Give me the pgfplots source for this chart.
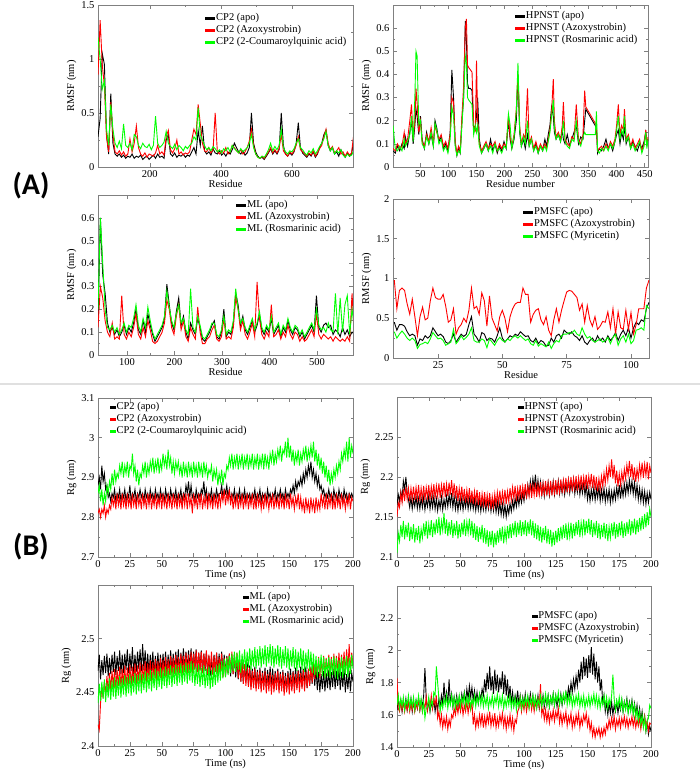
\documentclass[border=0pt]{standalone}
\usepackage{fontspec}
\setmainfont{Liberation Serif}
\newfontfamily\carlito{Carlito}
\usepackage{pgfplots}
\usepackage{pgfplotstable}
\pgfplotsset{compat=1.18}
\newcommand\fs{\fontsize{10.5}{12}\selectfont}
\definecolor{gr}{RGB}{0,255,0}
\definecolor{rd}{RGB}{255,0,0}
\pgfplotsset{
 panel/.style={scale only axis, anchor=south west,
   axis line style={black!50, line width=0.6pt},
   tick align=inside, major tick length=4pt, minor tick length=2pt,
   tick style={black!50, line width=0.5pt},
   minor x tick num=1, minor y tick num=1,
   tick label style={font=\fs}, label style={font=\fs},
   /pgf/number format/assume math mode=true,
   legend cell align=left,
   legend style={draw=none, fill=none, font=\fs, anchor=north west, inner sep=0pt, row sep=0pt,
     nodes={inner sep=1pt, text height=7.5pt, text depth=2.5pt}},
   xlabel style={yshift=4pt}, ylabel style={yshift=-2pt}},
 rmsf/.style={panel, ylabel={RMSF (nm)}, legend image code/.code={\fill[##1] (0pt,-0.8pt) rectangle (9pt,0.8pt);}},
 rg/.style={panel, xmin=0, xmax=200, xtick={0,25,...,200}, xlabel={Time (ns)}, ylabel={Rg (nm)},
   legend image code/.code={\fill[##1] (0pt,-1.2pt) rectangle (4.5pt,1.2pt);}},
 lb/.style={color=black, line width=0.9pt},
 lr/.style={color=rd, line width=0.9pt},
 lg/.style={color=gr, line width=0.9pt},
 tb/.style={color=black, line width=0.9pt},
 tr/.style={color=rd, line width=0.9pt},
 tg/.style={color=gr, line width=0.9pt},
}
% ---------- CP2 RMSF (x = 54 + 6i)
\pgfplotstableread[row sep=\\,header=false]{0.28\\0.45\\1.05\\0.95\\0.30\\0.12\\0.68\\0.22\\0.12\\0.10\\0.12\\0.09\\0.11\\0.08\\0.10\\0.09\\0.12\\0.08\\0.10\\0.09\\0.11\\0.07\\0.09\\0.10\\0.07\\0.09\\0.11\\0.08\\0.12\\0.09\\0.10\\0.08\\0.25\\0.30\\0.12\\0.10\\0.13\\0.09\\0.11\\0.10\\0.12\\0.09\\0.11\\0.10\\0.14\\0.18\\0.12\\0.34\\0.20\\0.38\\0.15\\0.12\\0.14\\0.11\\0.17\\0.13\\0.12\\0.15\\0.11\\0.13\\0.10\\0.14\\0.12\\0.16\\0.22\\0.18\\0.14\\0.12\\0.15\\0.11\\0.13\\0.18\\0.50\\0.22\\0.14\\0.10\\0.08\\0.09\\0.07\\0.10\\0.13\\0.17\\0.12\\0.15\\0.12\\0.16\\0.50\\0.20\\0.12\\0.10\\0.13\\0.11\\0.14\\0.22\\0.41\\0.18\\0.13\\0.11\\0.09\\0.12\\0.10\\0.14\\0.09\\0.12\\0.18\\0.22\\0.30\\0.34\\0.20\\0.15\\0.18\\0.12\\0.14\\0.10\\0.16\\0.12\\0.09\\0.13\\0.10\\0.12\\0.25\\}\cpRb
\pgfplotstableread[row sep=\\,header=false]{0.85\\1.36\\0.95\\0.75\\0.28\\0.14\\0.60\\0.30\\0.14\\0.12\\0.15\\0.11\\0.14\\0.10\\0.12\\0.26\\0.14\\0.22\\0.38\\0.18\\0.12\\0.10\\0.13\\0.09\\0.12\\0.11\\0.10\\0.13\\0.20\\0.12\\0.14\\0.11\\0.28\\0.34\\0.16\\0.13\\0.17\\0.25\\0.12\\0.14\\0.11\\0.13\\0.12\\0.14\\0.25\\0.35\\0.30\\0.58\\0.40\\0.22\\0.15\\0.14\\0.18\\0.13\\0.16\\0.50\\0.14\\0.12\\0.15\\0.13\\0.18\\0.12\\0.14\\0.20\\0.18\\0.15\\0.13\\0.16\\0.12\\0.14\\0.18\\0.24\\0.35\\0.20\\0.12\\0.09\\0.08\\0.10\\0.08\\0.11\\0.14\\0.18\\0.13\\0.16\\0.13\\0.17\\0.30\\0.15\\0.12\\0.10\\0.14\\0.12\\0.15\\0.20\\0.28\\0.16\\0.14\\0.12\\0.10\\0.13\\0.11\\0.15\\0.10\\0.13\\0.17\\0.20\\0.28\\0.35\\0.22\\0.16\\0.19\\0.13\\0.15\\0.18\\0.12\\0.14\\0.10\\0.14\\0.11\\0.13\\0.30\\}\cpRr
\pgfplotstableread[row sep=\\,header=false]{1.20\\1.00\\0.72\\0.80\\0.35\\0.20\\0.58\\0.35\\0.22\\0.18\\0.24\\0.17\\0.40\\0.20\\0.18\\0.22\\0.16\\0.30\\0.28\\0.20\\0.17\\0.22\\0.19\\0.18\\0.21\\0.16\\0.20\\0.47\\0.22\\0.18\\0.20\\0.23\\0.33\\0.22\\0.19\\0.17\\0.21\\0.16\\0.20\\0.18\\0.15\\0.19\\0.17\\0.20\\0.22\\0.28\\0.25\\0.55\\0.30\\0.25\\0.20\\0.16\\0.18\\0.15\\0.19\\0.17\\0.14\\0.16\\0.13\\0.17\\0.15\\0.18\\0.14\\0.20\\0.17\\0.15\\0.13\\0.17\\0.14\\0.16\\0.18\\0.22\\0.30\\0.18\\0.12\\0.09\\0.08\\0.10\\0.09\\0.12\\0.16\\0.22\\0.15\\0.19\\0.16\\0.20\\0.35\\0.18\\0.14\\0.12\\0.15\\0.14\\0.17\\0.22\\0.26\\0.18\\0.16\\0.13\\0.11\\0.15\\0.13\\0.17\\0.12\\0.15\\0.19\\0.22\\0.26\\0.33\\0.20\\0.15\\0.18\\0.12\\0.15\\0.13\\0.16\\0.11\\0.09\\0.12\\0.10\\0.11\\0.15\\}\cpRg
% ---------- ML RMSF (x = 39 + 5i)
\pgfplotstableread[row sep=\\,header=false]{0.15\\0.60\\0.35\\0.27\\0.14\\0.10\\0.12\\0.09\\0.11\\0.08\\0.10\\0.13\\0.09\\0.12\\0.10\\0.14\\0.20\\0.11\\0.09\\0.15\\0.10\\0.18\\0.13\\0.09\\0.06\\0.08\\0.10\\0.12\\0.16\\0.31\\0.22\\0.14\\0.11\\0.19\\0.25\\0.13\\0.17\\0.10\\0.07\\0.14\\0.11\\0.09\\0.16\\0.12\\0.07\\0.06\\0.08\\0.10\\0.13\\0.15\\0.08\\0.07\\0.10\\0.20\\0.08\\0.10\\0.09\\0.14\\0.27\\0.22\\0.13\\0.17\\0.11\\0.09\\0.12\\0.15\\0.10\\0.13\\0.18\\0.11\\0.09\\0.12\\0.10\\0.16\\0.09\\0.11\\0.13\\0.08\\0.12\\0.10\\0.15\\0.11\\0.09\\0.12\\0.11\\0.08\\0.10\\0.07\\0.09\\0.11\\0.13\\0.10\\0.26\\0.12\\0.10\\0.13\\0.14\\0.12\\0.13\\0.09\\0.11\\0.10\\0.08\\0.12\\0.09\\0.11\\0.08\\0.10\\0.09\\}\mlRb
\pgfplotstableread[row sep=\\,header=false]{0.12\\0.30\\0.25\\0.15\\0.10\\0.08\\0.14\\0.07\\0.08\\0.07\\0.26\\0.09\\0.07\\0.10\\0.08\\0.12\\0.18\\0.09\\0.07\\0.12\\0.08\\0.15\\0.11\\0.06\\0.05\\0.06\\0.08\\0.10\\0.14\\0.24\\0.20\\0.12\\0.09\\0.17\\0.22\\0.11\\0.15\\0.08\\0.06\\0.12\\0.09\\0.07\\0.21\\0.10\\0.05\\0.05\\0.07\\0.08\\0.11\\0.13\\0.07\\0.06\\0.08\\0.16\\0.07\\0.08\\0.07\\0.12\\0.25\\0.20\\0.11\\0.15\\0.09\\0.07\\0.10\\0.14\\0.08\\0.32\\0.16\\0.09\\0.07\\0.10\\0.08\\0.22\\0.08\\0.09\\0.11\\0.07\\0.10\\0.08\\0.13\\0.09\\0.07\\0.10\\0.09\\0.06\\0.08\\0.06\\0.07\\0.09\\0.11\\0.08\\0.18\\0.09\\0.07\\0.09\\0.08\\0.07\\0.08\\0.06\\0.08\\0.07\\0.06\\0.07\\0.06\\0.08\\0.06\\0.27\\0.07\\}\mlRr
\pgfplotstableread[row sep=\\,header=false]{0.20\\0.60\\0.40\\0.20\\0.12\\0.11\\0.13\\0.10\\0.12\\0.09\\0.11\\0.14\\0.10\\0.13\\0.12\\0.16\\0.22\\0.13\\0.10\\0.16\\0.12\\0.21\\0.15\\0.10\\0.07\\0.09\\0.11\\0.13\\0.17\\0.28\\0.21\\0.15\\0.12\\0.18\\0.22\\0.14\\0.16\\0.11\\0.09\\0.29\\0.12\\0.10\\0.17\\0.13\\0.08\\0.07\\0.09\\0.11\\0.14\\0.14\\0.09\\0.08\\0.11\\0.17\\0.09\\0.11\\0.10\\0.15\\0.29\\0.20\\0.14\\0.16\\0.12\\0.10\\0.13\\0.16\\0.11\\0.14\\0.19\\0.12\\0.10\\0.13\\0.11\\0.17\\0.10\\0.12\\0.14\\0.09\\0.13\\0.11\\0.16\\0.12\\0.10\\0.13\\0.12\\0.09\\0.11\\0.08\\0.10\\0.12\\0.14\\0.11\\0.20\\0.13\\0.11\\0.12\\0.10\\0.14\\0.11\\0.10\\0.27\\0.09\\0.25\\0.10\\0.22\\0.26\\0.09\\0.20\\0.12\\}\mlRg
% ---------- PMSFC RMSF (x = 8 + i)
\pgfplotstableread[row sep=\\,header=false]{0.45\\0.35\\0.42\\0.42\\0.40\\0.33\\0.28\\0.30\\0.28\\0.16\\0.24\\0.22\\0.28\\0.25\\0.28\\0.38\\0.33\\0.28\\0.30\\0.27\\0.20\\0.18\\0.22\\0.30\\0.20\\0.25\\0.30\\0.27\\0.30\\0.42\\0.52\\0.30\\0.26\\0.20\\0.32\\0.30\\0.22\\0.25\\0.24\\0.20\\0.28\\0.38\\0.25\\0.20\\0.24\\0.28\\0.26\\0.30\\0.28\\0.33\\0.30\\0.27\\0.28\\0.22\\0.20\\0.25\\0.18\\0.22\\0.20\\0.15\\0.16\\0.25\\0.20\\0.28\\0.30\\0.25\\0.35\\0.32\\0.30\\0.33\\0.28\\0.26\\0.22\\0.28\\0.20\\0.17\\0.22\\0.25\\0.20\\0.28\\0.22\\0.25\\0.20\\0.28\\0.22\\0.26\\0.32\\0.22\\0.30\\0.35\\0.28\\0.38\\0.25\\0.38\\0.45\\0.42\\0.48\\0.46\\0.62\\0.70\\}\pmRb
\pgfplotstableread[row sep=\\,header=false]{0.98\\0.62\\0.85\\0.88\\0.85\\0.68\\0.55\\0.74\\0.52\\0.28\\0.52\\0.64\\0.48\\0.50\\0.72\\0.88\\0.76\\0.74\\0.74\\0.80\\0.65\\0.45\\0.48\\0.62\\0.30\\0.38\\0.42\\0.50\\0.45\\0.60\\0.88\\0.62\\0.65\\0.55\\0.82\\0.72\\0.40\\0.78\\0.50\\0.42\\0.34\\0.52\\0.60\\0.50\\0.33\\0.52\\0.62\\0.68\\0.70\\0.70\\0.88\\0.80\\0.80\\0.45\\0.55\\0.60\\0.62\\0.48\\0.42\\0.52\\0.35\\0.28\\0.48\\0.62\\0.45\\0.60\\0.72\\0.83\\0.85\\0.84\\0.80\\0.76\\0.60\\0.68\\0.45\\0.66\\0.48\\0.40\\0.52\\0.36\\0.40\\0.46\\0.45\\0.58\\0.38\\0.62\\0.30\\0.58\\0.38\\0.36\\0.60\\0.36\\0.57\\0.30\\0.42\\0.62\\0.62\\0.62\\0.88\\0.98\\}\pmRr
\pgfplotstableread[row sep=\\,header=false]{0.33\\0.25\\0.30\\0.34\\0.30\\0.25\\0.22\\0.25\\0.22\\0.12\\0.17\\0.18\\0.20\\0.18\\0.24\\0.32\\0.28\\0.24\\0.25\\0.22\\0.16\\0.18\\0.20\\0.36\\0.18\\0.22\\0.28\\0.23\\0.26\\0.30\\0.38\\0.22\\0.20\\0.20\\0.24\\0.22\\0.13\\0.24\\0.20\\0.16\\0.22\\0.26\\0.22\\0.20\\0.24\\0.22\\0.26\\0.28\\0.25\\0.28\\0.25\\0.22\\0.24\\0.18\\0.16\\0.22\\0.15\\0.18\\0.16\\0.14\\0.20\\0.12\\0.18\\0.22\\0.20\\0.28\\0.30\\0.30\\0.32\\0.31\\0.35\\0.30\\0.28\\0.38\\0.30\\0.25\\0.27\\0.22\\0.20\\0.22\\0.24\\0.20\\0.22\\0.26\\0.18\\0.26\\0.30\\0.16\\0.24\\0.28\\0.20\\0.30\\0.18\\0.22\\0.35\\0.36\\0.38\\0.35\\0.66\\0.62\\}\pmRg
% ---------- CP2 Rg (t = i ns)
\pgfplotstableread[row sep=\\,header=false]{2.88\\2.90\\2.87\\2.93\\2.89\\2.91\\2.87\\2.88\\2.85\\2.86\\2.84\\2.86\\2.85\\2.87\\2.84\\2.86\\2.85\\2.87\\2.84\\2.86\\2.85\\2.87\\2.84\\2.86\\2.85\\2.88\\2.84\\2.86\\2.85\\2.87\\2.84\\2.86\\2.85\\2.87\\2.85\\2.86\\2.84\\2.87\\2.85\\2.86\\2.84\\2.87\\2.85\\2.86\\2.84\\2.87\\2.85\\2.86\\2.84\\2.87\\2.85\\2.86\\2.84\\2.87\\2.85\\2.86\\2.84\\2.87\\2.85\\2.86\\2.85\\2.87\\2.84\\2.86\\2.85\\2.87\\2.84\\2.86\\2.85\\2.88\\2.86\\2.89\\2.85\\2.88\\2.85\\2.86\\2.84\\2.87\\2.85\\2.86\\2.85\\2.87\\2.86\\2.89\\2.85\\2.87\\2.84\\2.86\\2.85\\2.87\\2.84\\2.86\\2.85\\2.87\\2.85\\2.86\\2.86\\2.88\\2.85\\2.87\\2.86\\2.88\\2.85\\2.87\\2.84\\2.86\\2.85\\2.87\\2.84\\2.86\\2.85\\2.87\\2.84\\2.86\\2.85\\2.87\\2.84\\2.86\\2.85\\2.86\\2.84\\2.86\\2.85\\2.87\\2.84\\2.86\\2.85\\2.87\\2.84\\2.86\\2.85\\2.86\\2.84\\2.87\\2.85\\2.86\\2.84\\2.86\\2.85\\2.87\\2.84\\2.86\\2.85\\2.87\\2.85\\2.86\\2.84\\2.87\\2.85\\2.86\\2.85\\2.87\\2.86\\2.88\\2.86\\2.89\\2.87\\2.89\\2.88\\2.90\\2.88\\2.91\\2.89\\2.92\\2.90\\2.93\\2.91\\2.94\\2.90\\2.92\\2.89\\2.91\\2.88\\2.90\\2.87\\2.88\\2.86\\2.87\\2.85\\2.86\\2.85\\2.87\\2.85\\2.86\\2.84\\2.87\\2.85\\2.86\\2.84\\2.87\\2.85\\2.86\\2.84\\2.87\\2.85\\2.86\\2.84\\2.86\\2.85\\2.86\\2.85\\}\cpGb
\pgfplotstableread[row sep=\\,header=false]{2.81\\2.82\\2.80\\2.82\\2.81\\2.83\\2.80\\2.82\\2.81\\2.83\\2.82\\2.85\\2.83\\2.85\\2.82\\2.86\\2.83\\2.85\\2.82\\2.86\\2.83\\2.85\\2.82\\2.86\\2.83\\2.85\\2.82\\2.86\\2.83\\2.85\\2.82\\2.86\\2.83\\2.85\\2.82\\2.86\\2.83\\2.85\\2.82\\2.86\\2.83\\2.86\\2.82\\2.85\\2.83\\2.86\\2.82\\2.85\\2.83\\2.86\\2.82\\2.86\\2.83\\2.85\\2.82\\2.86\\2.83\\2.85\\2.82\\2.86\\2.83\\2.85\\2.82\\2.86\\2.83\\2.85\\2.82\\2.86\\2.83\\2.86\\2.82\\2.86\\2.83\\2.85\\2.81\\2.86\\2.83\\2.85\\2.82\\2.86\\2.83\\2.86\\2.82\\2.85\\2.83\\2.86\\2.82\\2.86\\2.83\\2.85\\2.82\\2.86\\2.83\\2.85\\2.82\\2.86\\2.83\\2.86\\2.84\\2.87\\2.83\\2.86\\2.84\\2.87\\2.83\\2.86\\2.82\\2.85\\2.83\\2.86\\2.82\\2.85\\2.83\\2.86\\2.82\\2.85\\2.83\\2.86\\2.82\\2.85\\2.83\\2.86\\2.82\\2.85\\2.82\\2.86\\2.83\\2.85\\2.82\\2.85\\2.82\\2.86\\2.83\\2.85\\2.82\\2.85\\2.83\\2.86\\2.82\\2.85\\2.83\\2.85\\2.82\\2.86\\2.83\\2.85\\2.82\\2.86\\2.83\\2.85\\2.82\\2.86\\2.83\\2.85\\2.82\\2.85\\2.83\\2.86\\2.82\\2.85\\2.82\\2.84\\2.81\\2.85\\2.82\\2.84\\2.81\\2.85\\2.82\\2.84\\2.81\\2.85\\2.82\\2.84\\2.82\\2.86\\2.83\\2.85\\2.82\\2.86\\2.82\\2.85\\2.83\\2.86\\2.82\\2.85\\2.82\\2.86\\2.83\\2.85\\2.82\\2.86\\2.83\\2.85\\2.82\\2.85\\2.83\\2.86\\2.82\\2.85\\2.84\\}\cpGr
\pgfplotstableread[row sep=\\,header=false]{2.86\\2.88\\2.84\\2.87\\2.83\\2.86\\2.84\\2.88\\2.86\\2.89\\2.87\\2.91\\2.88\\2.92\\2.89\\2.91\\2.90\\2.93\\2.91\\2.94\\2.90\\2.93\\2.91\\2.94\\2.90\\2.93\\2.92\\2.96\\2.91\\2.93\\2.89\\2.92\\2.88\\2.91\\2.90\\2.93\\2.91\\2.94\\2.90\\2.93\\2.91\\2.94\\2.92\\2.95\\2.91\\2.94\\2.92\\2.95\\2.91\\2.94\\2.92\\2.96\\2.93\\2.95\\2.92\\2.97\\2.93\\2.95\\2.91\\2.94\\2.91\\2.94\\2.92\\2.94\\2.91\\2.93\\2.90\\2.94\\2.91\\2.93\\2.90\\2.94\\2.91\\2.93\\2.90\\2.94\\2.91\\2.93\\2.90\\2.94\\2.91\\2.93\\2.90\\2.94\\2.91\\2.93\\2.90\\2.92\\2.91\\2.93\\2.89\\2.92\\2.90\\2.92\\2.88\\2.91\\2.89\\2.92\\2.88\\2.91\\2.90\\2.93\\2.92\\2.95\\2.93\\2.96\\2.92\\2.95\\2.93\\2.96\\2.92\\2.95\\2.93\\2.96\\2.92\\2.95\\2.93\\2.96\\2.92\\2.95\\2.93\\2.96\\2.92\\2.95\\2.93\\2.96\\2.92\\2.95\\2.93\\2.96\\2.92\\2.96\\2.93\\2.95\\2.92\\2.96\\2.94\\2.97\\2.93\\2.96\\2.94\\2.97\\2.95\\2.98\\2.94\\2.97\\2.96\\2.99\\2.95\\3.00\\2.95\\2.98\\2.94\\2.97\\2.93\\2.96\\2.94\\2.97\\2.93\\2.96\\2.94\\2.97\\2.95\\2.98\\2.94\\2.97\\2.95\\2.98\\2.95\\2.99\\2.94\\2.97\\2.93\\2.96\\2.92\\2.95\\2.91\\2.94\\2.90\\2.93\\2.89\\2.92\\2.88\\2.91\\2.89\\2.92\\2.90\\2.93\\2.91\\2.94\\2.92\\2.96\\2.94\\2.97\\2.95\\2.99\\2.94\\3.00\\2.95\\2.98\\2.96\\}\cpGg
% ---------- HPNST Rg
\pgfplotstableread[row sep=\\,header=false]{2.165\\2.178\\2.170\\2.182\\2.172\\2.195\\2.185\\2.200\\2.180\\2.172\\2.162\\2.175\\2.160\\2.172\\2.163\\2.176\\2.161\\2.173\\2.160\\2.174\\2.162\\2.175\\2.159\\2.172\\2.163\\2.177\\2.160\\2.174\\2.162\\2.176\\2.160\\2.173\\2.158\\2.171\\2.161\\2.175\\2.159\\2.172\\2.162\\2.176\\2.163\\2.178\\2.165\\2.180\\2.162\\2.176\\2.160\\2.173\\2.158\\2.172\\2.161\\2.174\\2.159\\2.172\\2.162\\2.175\\2.160\\2.173\\2.161\\2.174\\2.160\\2.172\\2.158\\2.171\\2.159\\2.173\\2.157\\2.170\\2.159\\2.172\\2.158\\2.171\\2.160\\2.173\\2.157\\2.170\\2.158\\2.172\\2.156\\2.169\\2.155\\2.168\\2.153\\2.166\\2.152\\2.165\\2.150\\2.163\\2.154\\2.167\\2.157\\2.170\\2.160\\2.173\\2.163\\2.176\\2.165\\2.178\\2.168\\2.180\\2.170\\2.185\\2.175\\2.190\\2.178\\2.195\\2.182\\2.198\\2.186\\2.203\\2.182\\2.196\\2.180\\2.194\\2.178\\2.192\\2.176\\2.190\\2.179\\2.193\\2.177\\2.190\\2.180\\2.194\\2.178\\2.191\\2.181\\2.195\\2.179\\2.192\\2.180\\2.194\\2.178\\2.191\\2.182\\2.196\\2.180\\2.193\\2.183\\2.197\\2.179\\2.192\\2.181\\2.195\\2.178\\2.191\\2.180\\2.194\\2.177\\2.190\\2.172\\2.185\\2.170\\2.184\\2.173\\2.187\\2.171\\2.185\\2.174\\2.188\\2.170\\2.184\\2.172\\2.186\\2.169\\2.183\\2.171\\2.185\\2.168\\2.182\\2.170\\2.184\\2.172\\2.187\\2.175\\2.190\\2.173\\2.188\\2.176\\2.191\\2.178\\2.193\\2.180\\2.196\\2.182\\2.195\\2.179\\2.193\\2.176\\2.190\\2.172\\2.186\\2.170\\2.184\\2.168\\2.182\\2.166\\2.180\\2.168\\2.181\\2.172\\}\hpGb
\pgfplotstableread[row sep=\\,header=false]{2.150\\2.168\\2.162\\2.180\\2.168\\2.185\\2.170\\2.188\\2.172\\2.186\\2.170\\2.186\\2.172\\2.188\\2.171\\2.187\\2.173\\2.190\\2.170\\2.186\\2.172\\2.189\\2.171\\2.187\\2.174\\2.190\\2.172\\2.188\\2.175\\2.191\\2.173\\2.189\\2.176\\2.192\\2.174\\2.190\\2.177\\2.193\\2.175\\2.191\\2.176\\2.193\\2.178\\2.196\\2.175\\2.192\\2.173\\2.189\\2.170\\2.186\\2.172\\2.188\\2.170\\2.185\\2.168\\2.184\\2.170\\2.186\\2.168\\2.183\\2.166\\2.182\\2.168\\2.184\\2.165\\2.181\\2.163\\2.179\\2.165\\2.181\\2.162\\2.178\\2.164\\2.180\\2.160\\2.176\\2.163\\2.179\\2.165\\2.181\\2.167\\2.183\\2.165\\2.181\\2.168\\2.184\\2.166\\2.182\\2.169\\2.186\\2.171\\2.187\\2.173\\2.189\\2.170\\2.186\\2.174\\2.190\\2.172\\2.188\\2.175\\2.191\\2.173\\2.189\\2.176\\2.192\\2.174\\2.190\\2.177\\2.193\\2.175\\2.191\\2.178\\2.194\\2.176\\2.192\\2.179\\2.195\\2.177\\2.193\\2.179\\2.195\\2.177\\2.193\\2.180\\2.196\\2.178\\2.194\\2.181\\2.197\\2.180\\2.196\\2.183\\2.199\\2.181\\2.197\\2.184\\2.200\\2.182\\2.198\\2.185\\2.201\\2.183\\2.199\\2.186\\2.202\\2.184\\2.200\\2.187\\2.203\\2.185\\2.201\\2.188\\2.204\\2.186\\2.202\\2.184\\2.200\\2.182\\2.198\\2.185\\2.201\\2.188\\2.205\\2.192\\2.210\\2.196\\2.214\\2.200\\2.222\\2.198\\2.215\\2.192\\2.208\\2.188\\2.204\\2.190\\2.206\\2.194\\2.210\\2.198\\2.215\\2.202\\2.220\\2.200\\2.216\\2.196\\2.212\\2.194\\2.210\\2.198\\2.215\\2.201\\2.218\\2.199\\2.216\\2.202\\2.219\\2.197\\2.214\\2.205\\}\hpGr
\pgfplotstableread[row sep=\\,header=false]{2.105\\2.130\\2.120\\2.140\\2.125\\2.145\\2.122\\2.140\\2.125\\2.143\\2.120\\2.138\\2.122\\2.141\\2.118\\2.136\\2.121\\2.139\\2.117\\2.135\\2.124\\2.142\\2.126\\2.145\\2.123\\2.141\\2.127\\2.146\\2.125\\2.143\\2.128\\2.147\\2.130\\2.150\\2.127\\2.145\\2.133\\2.155\\2.129\\2.147\\2.126\\2.144\\2.128\\2.146\\2.124\\2.142\\2.127\\2.145\\2.123\\2.141\\2.125\\2.143\\2.128\\2.147\\2.126\\2.144\\2.130\\2.148\\2.127\\2.145\\2.124\\2.142\\2.121\\2.139\\2.119\\2.137\\2.122\\2.140\\2.118\\2.136\\2.116\\2.134\\2.113\\2.132\\2.115\\2.133\\2.112\\2.130\\2.115\\2.133\\2.118\\2.136\\2.120\\2.138\\2.117\\2.135\\2.121\\2.139\\2.123\\2.141\\2.124\\2.142\\2.127\\2.145\\2.125\\2.143\\2.128\\2.146\\2.126\\2.144\\2.128\\2.146\\2.126\\2.144\\2.129\\2.147\\2.127\\2.145\\2.124\\2.142\\2.122\\2.140\\2.120\\2.138\\2.118\\2.136\\2.121\\2.139\\2.117\\2.135\\2.116\\2.134\\2.113\\2.131\\2.115\\2.133\\2.118\\2.136\\2.120\\2.138\\2.122\\2.140\\2.124\\2.142\\2.121\\2.139\\2.125\\2.143\\2.123\\2.141\\2.126\\2.144\\2.128\\2.146\\2.125\\2.143\\2.129\\2.147\\2.127\\2.145\\2.130\\2.148\\2.128\\2.146\\2.125\\2.143\\2.127\\2.145\\2.124\\2.142\\2.122\\2.140\\2.125\\2.143\\2.123\\2.141\\2.120\\2.138\\2.124\\2.142\\2.126\\2.144\\2.123\\2.141\\2.125\\2.143\\2.127\\2.145\\2.124\\2.142\\2.126\\2.144\\2.129\\2.147\\2.127\\2.145\\2.130\\2.148\\2.128\\2.146\\2.131\\2.149\\2.133\\2.151\\2.135\\2.154\\2.137\\2.156\\2.140\\2.160\\2.150\\}\hpGg
% ---------- ML Rg
\pgfplotstableread[row sep=\\,header=false]{2.470\\2.485\\2.462\\2.480\\2.466\\2.484\\2.468\\2.486\\2.465\\2.482\\2.467\\2.485\\2.469\\2.488\\2.466\\2.484\\2.470\\2.489\\2.467\\2.485\\2.468\\2.486\\2.471\\2.490\\2.468\\2.486\\2.470\\2.492\\2.467\\2.485\\2.469\\2.488\\2.472\\2.490\\2.470\\2.495\\2.471\\2.489\\2.468\\2.486\\2.467\\2.485\\2.470\\2.488\\2.466\\2.484\\2.469\\2.487\\2.467\\2.485\\2.468\\2.486\\2.470\\2.488\\2.467\\2.485\\2.471\\2.489\\2.468\\2.486\\2.470\\2.488\\2.472\\2.490\\2.469\\2.487\\2.473\\2.491\\2.470\\2.488\\2.471\\2.489\\2.473\\2.491\\2.470\\2.488\\2.472\\2.490\\2.469\\2.487\\2.471\\2.489\\2.468\\2.486\\2.470\\2.488\\2.466\\2.484\\2.465\\2.482\\2.467\\2.485\\2.469\\2.487\\2.468\\2.486\\2.470\\2.488\\2.467\\2.485\\2.466\\2.484\\2.468\\2.486\\2.465\\2.483\\2.467\\2.485\\2.464\\2.482\\2.462\\2.480\\2.460\\2.478\\2.458\\2.476\\2.460\\2.478\\2.457\\2.475\\2.455\\2.472\\2.457\\2.474\\2.454\\2.471\\2.456\\2.473\\2.453\\2.470\\2.456\\2.473\\2.454\\2.471\\2.457\\2.474\\2.455\\2.472\\2.453\\2.470\\2.455\\2.472\\2.452\\2.469\\2.454\\2.471\\2.451\\2.468\\2.453\\2.470\\2.455\\2.472\\2.453\\2.470\\2.456\\2.473\\2.454\\2.471\\2.457\\2.474\\2.455\\2.472\\2.457\\2.474\\2.454\\2.471\\2.456\\2.473\\2.458\\2.475\\2.456\\2.473\\2.452\\2.469\\2.450\\2.467\\2.453\\2.470\\2.451\\2.468\\2.454\\2.471\\2.452\\2.469\\2.455\\2.472\\2.453\\2.470\\2.456\\2.473\\2.452\\2.469\\2.455\\2.472\\2.450\\2.467\\2.453\\2.470\\2.451\\2.468\\2.460\\}\mlGb
\pgfplotstableread[row sep=\\,header=false]{2.420\\2.415\\2.440\\2.455\\2.445\\2.460\\2.448\\2.465\\2.450\\2.468\\2.452\\2.470\\2.455\\2.472\\2.453\\2.471\\2.456\\2.474\\2.454\\2.472\\2.457\\2.475\\2.455\\2.473\\2.458\\2.476\\2.456\\2.474\\2.459\\2.477\\2.457\\2.475\\2.460\\2.478\\2.458\\2.476\\2.461\\2.479\\2.459\\2.477\\2.462\\2.480\\2.460\\2.478\\2.463\\2.481\\2.461\\2.479\\2.464\\2.482\\2.462\\2.480\\2.465\\2.483\\2.463\\2.481\\2.466\\2.484\\2.464\\2.482\\2.467\\2.485\\2.465\\2.483\\2.468\\2.486\\2.466\\2.484\\2.469\\2.487\\2.467\\2.485\\2.470\\2.488\\2.468\\2.486\\2.471\\2.489\\2.469\\2.487\\2.470\\2.488\\2.468\\2.486\\2.471\\2.489\\2.467\\2.485\\2.470\\2.488\\2.466\\2.484\\2.469\\2.487\\2.465\\2.483\\2.468\\2.486\\2.464\\2.482\\2.465\\2.483\\2.468\\2.486\\2.470\\2.488\\2.467\\2.485\\2.469\\2.487\\2.463\\2.481\\2.460\\2.478\\2.458\\2.476\\2.456\\2.474\\2.455\\2.473\\2.452\\2.470\\2.454\\2.472\\2.451\\2.469\\2.453\\2.471\\2.450\\2.468\\2.452\\2.470\\2.449\\2.467\\2.451\\2.469\\2.448\\2.466\\2.450\\2.468\\2.452\\2.470\\2.449\\2.467\\2.451\\2.469\\2.447\\2.465\\2.450\\2.468\\2.448\\2.466\\2.451\\2.469\\2.449\\2.467\\2.452\\2.470\\2.450\\2.468\\2.453\\2.471\\2.451\\2.469\\2.454\\2.472\\2.456\\2.474\\2.459\\2.477\\2.462\\2.480\\2.465\\2.483\\2.463\\2.481\\2.466\\2.484\\2.464\\2.482\\2.467\\2.485\\2.465\\2.483\\2.468\\2.486\\2.466\\2.484\\2.469\\2.487\\2.467\\2.485\\2.470\\2.488\\2.468\\2.490\\2.471\\2.495\\2.469\\2.487\\2.475\\}\mlGr
\pgfplotstableread[row sep=\\,header=false]{2.440\\2.458\\2.442\\2.460\\2.444\\2.462\\2.441\\2.459\\2.445\\2.463\\2.443\\2.461\\2.446\\2.464\\2.444\\2.462\\2.447\\2.465\\2.445\\2.463\\2.448\\2.466\\2.446\\2.464\\2.449\\2.467\\2.447\\2.465\\2.450\\2.468\\2.448\\2.466\\2.451\\2.469\\2.449\\2.467\\2.452\\2.470\\2.450\\2.468\\2.453\\2.471\\2.451\\2.469\\2.454\\2.472\\2.452\\2.470\\2.455\\2.473\\2.453\\2.471\\2.456\\2.474\\2.454\\2.472\\2.457\\2.475\\2.455\\2.473\\2.458\\2.476\\2.456\\2.474\\2.459\\2.477\\2.457\\2.475\\2.460\\2.478\\2.458\\2.476\\2.461\\2.479\\2.459\\2.477\\2.456\\2.474\\2.458\\2.476\\2.455\\2.473\\2.457\\2.475\\2.454\\2.472\\2.456\\2.474\\2.453\\2.471\\2.455\\2.473\\2.457\\2.475\\2.459\\2.477\\2.461\\2.479\\2.463\\2.481\\2.464\\2.482\\2.466\\2.484\\2.468\\2.486\\2.470\\2.488\\2.469\\2.487\\2.471\\2.489\\2.468\\2.486\\2.472\\2.490\\2.470\\2.488\\2.473\\2.491\\2.471\\2.489\\2.474\\2.492\\2.472\\2.490\\2.475\\2.493\\2.473\\2.491\\2.476\\2.494\\2.474\\2.492\\2.477\\2.495\\2.475\\2.493\\2.473\\2.491\\2.476\\2.494\\2.474\\2.492\\2.472\\2.490\\2.475\\2.493\\2.473\\2.491\\2.471\\2.489\\2.474\\2.492\\2.472\\2.490\\2.470\\2.488\\2.473\\2.491\\2.471\\2.489\\2.469\\2.487\\2.472\\2.490\\2.470\\2.488\\2.468\\2.486\\2.466\\2.484\\2.464\\2.482\\2.467\\2.485\\2.465\\2.483\\2.463\\2.481\\2.465\\2.483\\2.463\\2.481\\2.466\\2.484\\2.464\\2.482\\2.462\\2.480\\2.465\\2.483\\2.463\\2.481\\2.466\\2.484\\2.464\\2.482\\2.467\\2.485\\2.472\\}\mlGg
% ---------- PMSFC Rg
\pgfplotstableread[row sep=\\,header=false]{1.63\\1.70\\1.64\\1.69\\1.62\\1.68\\1.64\\1.70\\1.63\\1.69\\1.64\\1.70\\1.62\\1.68\\1.63\\1.69\\1.64\\1.70\\1.63\\1.69\\1.65\\1.72\\1.89\\1.70\\1.63\\1.69\\1.62\\1.68\\1.64\\1.70\\1.62\\1.68\\1.63\\1.70\\1.65\\1.72\\1.66\\1.80\\1.68\\1.74\\1.66\\1.82\\1.67\\1.73\\1.65\\1.71\\1.66\\1.72\\1.65\\1.71\\1.66\\1.73\\1.68\\1.74\\1.67\\1.76\\1.70\\1.78\\1.71\\1.77\\1.69\\1.75\\1.68\\1.74\\1.67\\1.73\\1.70\\1.76\\1.72\\1.82\\1.74\\1.86\\1.76\\1.90\\1.75\\1.84\\1.73\\1.88\\1.75\\1.85\\1.74\\1.83\\1.76\\1.87\\1.73\\1.85\\1.72\\1.82\\1.70\\1.78\\1.67\\1.74\\1.66\\1.72\\1.68\\1.75\\1.66\\1.72\\1.65\\1.71\\1.66\\1.73\\1.65\\1.71\\1.67\\1.73\\1.66\\1.72\\1.65\\1.71\\1.66\\1.72\\1.64\\1.70\\1.66\\1.72\\1.65\\1.71\\1.66\\1.72\\1.65\\1.71\\1.67\\1.73\\1.66\\1.72\\1.65\\1.71\\1.67\\1.73\\1.66\\1.72\\1.68\\1.74\\1.70\\1.77\\1.72\\1.80\\1.74\\1.82\\1.76\\1.84\\1.78\\1.88\\1.80\\1.93\\1.82\\1.96\\1.84\\1.95\\1.83\\1.97\\1.86\\2.02\\1.85\\1.98\\1.82\\1.93\\1.80\\1.90\\1.75\\1.82\\1.66\\1.72\\1.62\\1.68\\1.60\\1.67\\1.61\\1.68\\1.60\\1.66\\1.62\\1.68\\1.61\\1.67\\1.63\\1.69\\1.62\\1.68\\1.64\\1.70\\1.62\\1.68\\1.63\\1.69\\1.61\\1.67\\1.60\\1.66\\1.58\\1.64\\1.56\\1.62\\1.54\\1.59\\1.50\\1.56\\1.48\\1.53\\1.50\\}\pmGb
\pgfplotstableread[row sep=\\,header=false]{1.83\\1.64\\1.62\\1.68\\1.63\\1.69\\1.62\\1.67\\1.63\\1.68\\1.62\\1.67\\1.63\\1.69\\1.62\\1.67\\1.64\\1.70\\1.63\\1.68\\1.62\\1.67\\1.64\\1.71\\1.63\\1.69\\1.65\\1.72\\1.64\\1.70\\1.66\\1.72\\1.58\\1.62\\1.54\\1.60\\1.52\\1.58\\1.53\\1.59\\1.51\\1.57\\1.53\\1.60\\1.58\\1.64\\1.60\\1.66\\1.61\\1.67\\1.62\\1.68\\1.60\\1.66\\1.62\\1.68\\1.61\\1.67\\1.63\\1.69\\1.54\\1.60\\1.52\\1.58\\1.53\\1.60\\1.54\\1.61\\1.52\\1.59\\1.53\\1.60\\1.55\\1.62\\1.53\\1.59\\1.54\\1.61\\1.52\\1.58\\1.53\\1.60\\1.55\\1.61\\1.53\\1.59\\1.51\\1.58\\1.53\\1.60\\1.52\\1.58\\1.50\\1.57\\1.55\\1.62\\1.64\\1.70\\1.62\\1.68\\1.63\\1.69\\1.62\\1.68\\1.64\\1.70\\1.63\\1.69\\1.62\\1.68\\1.64\\1.70\\1.65\\1.79\\1.60\\1.64\\1.57\\1.63\\1.56\\1.62\\1.55\\1.61\\1.57\\1.63\\1.56\\1.62\\1.58\\1.64\\1.55\\1.61\\1.54\\1.60\\1.56\\1.62\\1.53\\1.59\\1.55\\1.61\\1.52\\1.58\\1.53\\1.60\\1.55\\1.61\\1.52\\1.58\\1.54\\1.60\\1.56\\1.61\\1.53\\1.58\\1.50\\1.55\\1.47\\1.52\\1.46\\1.51\\1.48\\1.52\\1.46\\1.51\\1.47\\1.52\\1.48\\1.54\\1.51\\1.57\\1.52\\1.58\\1.53\\1.59\\1.51\\1.57\\1.53\\1.58\\1.52\\1.58\\1.54\\1.59\\1.53\\1.58\\1.52\\1.57\\1.54\\1.59\\1.53\\1.58\\1.52\\1.57\\1.53\\1.58\\1.51\\1.57\\1.54\\1.59\\1.52\\1.56\\1.50\\1.55\\1.54\\}\pmGr
\pgfplotstableread[row sep=\\,header=false]{1.66\\1.72\\1.64\\1.70\\1.65\\1.71\\1.63\\1.69\\1.66\\1.72\\1.64\\1.70\\1.65\\1.71\\1.63\\1.69\\1.66\\1.72\\1.64\\1.70\\1.62\\1.68\\1.58\\1.64\\1.65\\1.71\\1.63\\1.69\\1.66\\1.74\\1.72\\1.90\\1.80\\1.70\\1.62\\1.68\\1.64\\1.70\\1.66\\1.72\\1.64\\1.70\\1.66\\1.72\\1.65\\1.71\\1.64\\1.70\\1.66\\1.72\\1.65\\1.71\\1.67\\1.73\\1.65\\1.71\\1.66\\1.72\\1.64\\1.70\\1.66\\1.72\\1.65\\1.71\\1.67\\1.73\\1.66\\1.72\\1.65\\1.71\\1.66\\1.72\\1.64\\1.70\\1.66\\1.72\\1.65\\1.71\\1.67\\1.73\\1.65\\1.71\\1.66\\1.72\\1.64\\1.70\\1.65\\1.71\\1.66\\1.72\\1.64\\1.70\\1.65\\1.71\\1.63\\1.69\\1.65\\1.71\\1.64\\1.70\\1.65\\1.71\\1.66\\1.72\\1.64\\1.70\\1.66\\1.72\\1.65\\1.71\\1.64\\1.70\\1.66\\1.72\\1.65\\1.71\\1.67\\1.73\\1.66\\1.72\\1.65\\1.71\\1.67\\1.73\\1.66\\1.72\\1.68\\1.74\\1.66\\1.72\\1.67\\1.73\\1.68\\1.75\\1.66\\1.72\\1.67\\1.73\\1.65\\1.71\\1.66\\1.72\\1.67\\1.73\\1.65\\1.71\\1.66\\1.72\\1.64\\1.70\\1.66\\1.72\\1.65\\1.71\\1.67\\1.73\\1.66\\1.72\\1.65\\1.71\\1.64\\1.70\\1.66\\1.72\\1.65\\1.71\\1.64\\1.70\\1.66\\1.72\\1.85\\1.70\\1.63\\1.69\\1.65\\1.71\\1.64\\1.70\\1.62\\1.68\\1.63\\1.69\\1.61\\1.67\\1.62\\1.68\\1.60\\1.66\\1.58\\1.64\\1.56\\1.62\\1.54\\1.60\\1.52\\1.58\\1.50\\1.56\\1.58\\1.66\\1.64\\}\pmGg
\begin{document}
\begin{tikzpicture}
\useasboundingbox (0,0) rectangle (700pt,769pt);
\draw[black!12, line width=1.2pt] (0,385pt) -- (700pt,385pt);
\node[font=\carlito\bfseries\fontsize{30}{30}\selectfont] at (31pt,583pt) {(A)};
\node[font=\carlito\bfseries\fontsize{30}{30}\selectfont] at (31pt,222pt) {(B)};
% A1 CP2 RMSF
\begin{axis}[rmsf, at={(98pt,602pt)}, width=255pt, height=162pt,
  xmin=54, xmax=772, ymin=0, ymax=1.5, xtick={200,400,600}, ytick={0,0.5,1,1.5},
  xlabel={Residue}, legend style={at={(0.42,0.957)}}]
\addplot[lb] table[x expr=54+6*\coordindex, y index=0]{\cpRb};
\addplot[lr] table[x expr=54+6*\coordindex, y index=0]{\cpRr};
\addplot[lg] table[x expr=54+6*\coordindex, y index=0]{\cpRg};
\legend{CP2 (apo),CP2 (Azoxystrobin),CP2 (2-Coumaroylquinic acid)}
\end{axis}
% A2 HPNST RMSF
\begin{axis}[rmsf, at={(393pt,602pt)}, width=255pt, height=162pt,
  xmin=1, xmax=456, ymin=0, ymax=0.7, xtick={50,100,...,450}, ytick={0,0.1,0.2,0.3,0.4,0.5,0.6},
  xlabel={Residue number}, legend style={at={(0.478,0.969)}}]
\addplot[lb] coordinates {(1,0.07)(5,0.06)(9,0.09)(13,0.07)(17,0.10)(21,0.08)(23,0.13)(27,0.09)(31,0.15)(34,0.20)(37,0.10)(40,0.18)(42,0.25)(44,0.22)(47,0.14)(50,0.22)(53,0.12)(57,0.08)(61,0.15)(65,0.10)(69,0.14)(73,0.09)(76,0.20)(79,0.17)(83,0.11)(87,0.13)(91,0.08)(95,0.10)(99,0.07)(103,0.15)(106,0.42)(109,0.30)(112,0.10)(115,0.05)(118,0.08)(121,0.06)(124,0.20)(127,0.30)(130,0.63)(132,0.55)(134,0.36)(136,0.34)(139,0.34)(142,0.33)(145,0.15)(148,0.18)(150,0.22)(152,0.30)(155,0.12)(159,0.06)(163,0.08)(167,0.10)(171,0.07)(175,0.12)(179,0.07)(183,0.10)(187,0.06)(191,0.09)(195,0.07)(199,0.11)(203,0.08)(207,0.20)(210,0.12)(213,0.08)(217,0.12)(221,0.20)(224,0.40)(227,0.15)(230,0.09)(234,0.12)(237,0.08)(241,0.14)(244,0.09)(248,0.12)(252,0.07)(256,0.10)(260,0.06)(264,0.09)(268,0.07)(272,0.12)(275,0.09)(278,0.14)(281,0.18)(284,0.26)(287,0.22)(289,0.15)(292,0.12)(296,0.14)(300,0.11)(303,0.16)(305,0.12)(308,0.10)(312,0.14)(316,0.09)(320,0.12)(324,0.15)(328,0.18)(332,0.10)(336,0.13)(340,0.12)(343,0.20)(345,0.25)(364,0.17)(366,0.06)(369,0.08)(373,0.07)(377,0.09)(381,0.12)(385,0.08)(389,0.10)(393,0.07)(397,0.11)(400,0.14)(403,0.16)(406,0.10)(409,0.15)(412,0.12)(414,0.18)(417,0.10)(421,0.13)(425,0.08)(429,0.11)(433,0.09)(437,0.07)(441,0.10)(445,0.08)(449,0.11)(452,0.15)(454,0.10)(456,0.12)};
\addplot[lr] coordinates {(1,0.08)(5,0.07)(9,0.10)(13,0.08)(17,0.09)(21,0.15)(23,0.10)(27,0.12)(31,0.20)(34,0.27)(37,0.12)(40,0.20)(42,0.34)(44,0.28)(47,0.15)(50,0.20)(53,0.11)(57,0.09)(61,0.14)(65,0.11)(69,0.17)(73,0.10)(76,0.18)(79,0.15)(83,0.12)(87,0.14)(91,0.09)(95,0.11)(99,0.08)(103,0.14)(106,0.30)(109,0.28)(112,0.11)(115,0.06)(118,0.09)(121,0.07)(124,0.22)(127,0.35)(130,0.60)(132,0.64)(134,0.44)(136,0.43)(139,0.42)(142,0.41)(145,0.18)(148,0.16)(150,0.46)(152,0.20)(155,0.10)(159,0.07)(163,0.09)(167,0.11)(171,0.08)(175,0.10)(179,0.09)(183,0.11)(187,0.07)(191,0.10)(195,0.08)(199,0.10)(203,0.09)(207,0.22)(210,0.13)(213,0.09)(217,0.14)(221,0.25)(224,0.40)(227,0.18)(230,0.10)(234,0.14)(237,0.12)(241,0.34)(244,0.10)(248,0.13)(252,0.08)(256,0.11)(260,0.07)(264,0.10)(268,0.08)(272,0.10)(275,0.08)(278,0.12)(281,0.16)(284,0.24)(287,0.38)(289,0.20)(292,0.13)(296,0.15)(300,0.12)(303,0.18)(305,0.28)(308,0.12)(312,0.10)(316,0.09)(320,0.13)(324,0.12)(328,0.27)(332,0.12)(336,0.10)(340,0.14)(343,0.33)(345,0.26)(364,0.18)(366,0.07)(369,0.08)(373,0.09)(377,0.07)(381,0.10)(385,0.08)(389,0.11)(393,0.09)(397,0.12)(400,0.18)(403,0.27)(406,0.14)(409,0.18)(412,0.16)(414,0.25)(417,0.12)(421,0.14)(425,0.09)(429,0.12)(433,0.08)(437,0.10)(441,0.12)(445,0.07)(449,0.10)(452,0.16)(454,0.09)(456,0.13)};
\addplot[lg] coordinates {(1,0.18)(5,0.08)(9,0.07)(13,0.09)(17,0.07)(21,0.12)(23,0.09)(27,0.11)(31,0.14)(34,0.22)(37,0.11)(40,0.30)(42,0.50)(44,0.48)(47,0.18)(50,0.20)(53,0.10)(57,0.08)(61,0.13)(65,0.10)(69,0.15)(73,0.09)(76,0.19)(79,0.16)(83,0.10)(87,0.12)(91,0.07)(95,0.09)(99,0.06)(103,0.12)(106,0.26)(109,0.22)(112,0.09)(115,0.05)(118,0.07)(121,0.06)(124,0.18)(127,0.30)(130,0.48)(132,0.45)(134,0.30)(136,0.29)(139,0.28)(142,0.27)(145,0.14)(148,0.18)(150,0.15)(152,0.18)(155,0.09)(159,0.06)(163,0.08)(167,0.10)(171,0.07)(175,0.09)(179,0.06)(183,0.10)(187,0.07)(191,0.08)(195,0.06)(199,0.09)(203,0.08)(207,0.23)(210,0.18)(213,0.08)(217,0.13)(221,0.24)(224,0.45)(227,0.16)(230,0.09)(234,0.13)(237,0.10)(241,0.20)(244,0.09)(248,0.12)(252,0.07)(256,0.09)(260,0.06)(264,0.09)(268,0.07)(272,0.09)(275,0.07)(278,0.11)(281,0.15)(284,0.22)(287,0.29)(289,0.17)(292,0.12)(296,0.14)(300,0.11)(303,0.15)(305,0.20)(308,0.11)(312,0.09)(316,0.08)(320,0.12)(324,0.11)(328,0.20)(332,0.11)(336,0.09)(340,0.13)(343,0.15)(345,0.14)(362,0.14)(364,0.24)(366,0.07)(369,0.06)(373,0.08)(377,0.07)(381,0.09)(385,0.07)(389,0.10)(393,0.08)(397,0.11)(400,0.16)(403,0.22)(406,0.12)(409,0.16)(412,0.14)(414,0.22)(417,0.11)(421,0.13)(425,0.08)(429,0.10)(433,0.07)(437,0.09)(441,0.11)(445,0.06)(449,0.09)(452,0.15)(454,0.08)(456,0.12)};
\legend{HPNST (apo),HPNST (Azoxystrobin),HPNST (Rosmarinic acid)}
\end{axis}
% A3 ML RMSF
\begin{axis}[rmsf, at={(98pt,414pt)}, width=255pt, height=160pt,
  xmin=39, xmax=576, ymin=0, ymax=0.7, xtick={100,200,300,400,500}, ytick={0,0.1,0.2,0.3,0.4,0.5,0.6},
  xlabel={Residue}, legend style={at={(0.541,0.975)}}]
\addplot[lb] table[x expr=39+5*\coordindex, y index=0]{\mlRb};
\addplot[lr] table[x expr=39+5*\coordindex, y index=0]{\mlRr};
\addplot[lg] table[x expr=39+5*\coordindex, y index=0]{\mlRg};
\legend{ML (apo),ML (Azoxystrobin),ML (Rosmarinic acid)}
\end{axis}
% A4 PMSFC RMSF
\begin{axis}[rmsf, at={(393pt,411pt)}, width=256pt, height=159pt,
  xmin=7.5, xmax=107, ymin=0, ymax=2, xtick={25,50,75,100}, ytick={0,0.5,1,1.5,2},
  xlabel={Residue}, legend style={at={(0.508,0.956)}}]
\addplot[lb] table[x expr=8+\coordindex, y index=0]{\pmRb};
\addplot[lr] table[x expr=8+\coordindex, y index=0]{\pmRr};
\addplot[lg] table[x expr=8+\coordindex, y index=0]{\pmRg};
\legend{PMSFC (apo),PMSFC (Azoxystrobin),PMSFC (Myricetin)}
\end{axis}
% B1 CP2 Rg
\begin{axis}[rg, at={(98pt,212pt)}, width=255pt, height=159pt,
  ymin=2.7, ymax=3.1, ytick={2.7,2.8,2.9,3,3.1}, legend style={at={(0.047,0.98)}}]
\addplot[tb] table[x expr=\coordindex, y index=0]{\cpGb};
\addplot[tr] table[x expr=\coordindex, y index=0]{\cpGr};
\addplot[tg] table[x expr=\coordindex, y index=0]{\cpGg};
\legend{CP2 (apo),CP2 (Azoxystrobin),CP2 (2-Coumaroylquinic acid)}
\end{axis}
% B2 HPNST Rg
\begin{axis}[rg, at={(397pt,212pt)}, width=254pt, height=160pt,
  ymin=2.1, ymax=2.3, ytick={2.1,2.15,2.2,2.25}, legend style={at={(0.476,0.975)}}]
\addplot[tb] table[x expr=\coordindex, y index=0]{\hpGb};
\addplot[tr] table[x expr=\coordindex, y index=0]{\hpGr};
\addplot[tg] table[x expr=\coordindex, y index=0]{\hpGg};
\legend{HPNST (apo),HPNST (Azoxystrobin),HPNST (Rosmarinic acid)}
\end{axis}
% B3 ML Rg
\begin{axis}[rg, at={(98pt,23pt)}, width=255pt, height=161pt,
  ymin=2.4, ymax=2.55, ytick={2.4,2.45,2.5}, legend style={at={(0.569,0.963)}}]
\addplot[tb] table[x expr=\coordindex, y index=0]{\mlGb};
\addplot[tr] table[x expr=\coordindex, y index=0]{\mlGr};
\addplot[tg] table[x expr=\coordindex, y index=0]{\mlGg};
\legend{ML (apo),ML (Azoxystrobin),ML (Rosmarinic acid)}
\end{axis}
% B4 PMSFC Rg
\begin{axis}[rg, at={(397pt,22pt)}, width=254pt, height=161pt,
  ymin=1.4, ymax=2.4, ytick={1.4,1.6,1.8,2,2.2}, legend style={at={(0.531,0.851)}}]
\addplot[tb] table[x expr=\coordindex, y index=0]{\pmGb};
\addplot[tr] table[x expr=\coordindex, y index=0]{\pmGr};
\addplot[tg] table[x expr=\coordindex, y index=0]{\pmGg};
\legend{PMSFC (apo),PMSFC (Azoxystrobin),PMSFC (Myricetin)}
\end{axis}
\end{tikzpicture}
\end{document}
